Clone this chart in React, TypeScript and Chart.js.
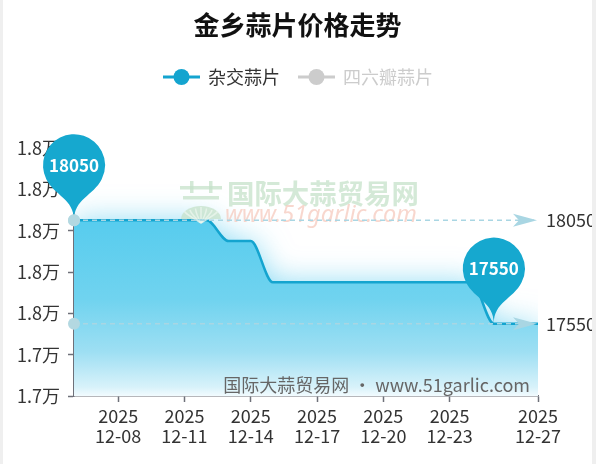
import React, { useEffect, useRef } from 'react';
import { Chart, registerables } from 'chart.js';

Chart.register(...registerables);

const TITLE = '金乡蒜片价格走势';
const SERIES_NAMES = ['杂交蒜片', '四六瓣蒜片'];
const DATES = [
  '2025-12-06', '2025-12-07', '2025-12-08', '2025-12-09', '2025-12-10', '2025-12-11',
  '2025-12-12', '2025-12-13', '2025-12-14', '2025-12-15', '2025-12-16', '2025-12-17',
  '2025-12-18', '2025-12-19', '2025-12-20', '2025-12-21', '2025-12-22', '2025-12-23',
  '2025-12-24', '2025-12-25', '2025-12-26', '2025-12-27',
];
const HYBRID_PRICES = [
  18050, 18050, 18050, 18050, 18050, 18050,
  18050, 17950, 17950, 17750, 17750, 17750,
  17750, 17750, 17750, 17750, 17750, 17750,
  17750, 17550, 17550, 17550,
];
const SIXPETAL_PRICES: number[] = [];
const SHOWN_TICK_DATES = ['2025-12-08', '2025-12-11', '2025-12-14', '2025-12-17', '2025-12-20', '2025-12-23', '2025-12-27'];
const Y_MIN = 17200;
const Y_MAX = 18400;
const Y_STEP = 200;
const WATERMARK_NAME = '国际大蒜贸易网';
const WATERMARK_URL = 'www.51garlic.com';

const FONT = '"Noto Sans CJK SC", "Noto Sans", sans-serif';
const LINE_COLOR = '#14a4cf';
const PIN_COLOR = '#16a8cf';
const MARK_COLOR = '#a9d6e3';
const MARK_DOT = '#b3d8e1';
const W = 589;
const H = 464;

function drawPin(ctx: CanvasRenderingContext2D, x: number, tipY: number, r: number, h: number) {
  const dy = (r * r) / (h - r);
  const cy = tipY - h + r + dy;
  const angle = Math.asin(dy / r);
  const dx = Math.cos(angle) * r;
  const tanX = Math.sin(angle);
  const tanY = Math.cos(angle);
  const cpLen = r * 0.6;
  const cpLen2 = r * 0.7;
  ctx.beginPath();
  ctx.moveTo(x - dx, cy + dy);
  ctx.arc(x, cy, r, Math.PI - angle, Math.PI * 2 + angle);
  ctx.bezierCurveTo(x + dx - tanX * cpLen, cy + dy + tanY * cpLen, x, tipY - cpLen2, x, tipY);
  ctx.bezierCurveTo(x, tipY - cpLen2, x - dx + tanX * cpLen, cy + dy + tanY * cpLen, x - dx, cy + dy);
  ctx.closePath();
  ctx.fill();
  return cy;
}

function fitFont(ctx: CanvasRenderingContext2D, text: string, style: string, family: string, width: number) {
  ctx.font = `${style} 20px ${family}`;
  const w = ctx.measureText(text).width;
  const size = (20 * width) / w;
  return `${style} ${size.toFixed(2)}px ${family}`;
}

const areaPlugin = {
  id: 'areaShadow',
  beforeDatasetsDraw(chart: any) {
    const ctx: CanvasRenderingContext2D = chart.ctx;
    const ca = chart.chartArea;
    const meta = chart.getDatasetMeta(0);
    const line = meta.dataset;
    const pts = meta.data;
    if (!line || !pts.length) return;
    if (line.updateControlPoints) line.updateControlPoints(ca, 'x');
    const yScale = chart.scales.y;
    const topY = yScale.getPixelForValue(Math.max(...HYBRID_PRICES));
    ctx.save();
    ctx.beginPath();
    ctx.rect(ca.left, ca.top, ca.right - ca.left, ca.bottom - ca.top);
    ctx.clip();
    ctx.beginPath();
    line.path(ctx);
    ctx.lineTo(pts[pts.length - 1].x, ca.bottom);
    ctx.lineTo(pts[0].x, ca.bottom);
    ctx.closePath();
    const g = ctx.createLinearGradient(0, topY, 0, ca.bottom);
    g.addColorStop(0, '#57ccee');
    g.addColorStop(0.45, '#70d3ef');
    g.addColorStop(0.75, '#9edff3');
    g.addColorStop(0.95, '#d8f2fa');
    g.addColorStop(1, '#f2fbfe');
    ctx.shadowColor = 'rgba(50,190,235,0.55)';
    ctx.shadowBlur = 30;
    ctx.fillStyle = g;
    ctx.fill();
    ctx.restore();
  },
};

const overlayPlugin = {
  id: 'overlay',
  afterDatasetsDraw(chart: any) {
    const ctx: CanvasRenderingContext2D = chart.ctx;
    const ca = chart.chartArea;
    const xs = chart.scales.x;
    const ys = chart.scales.y;
    ctx.save();

    // title
    ctx.fillStyle = '#111';
    ctx.font = `bold 26px ${FONT}`;
    ctx.textAlign = 'center';
    ctx.textBaseline = 'middle';
    ctx.fillText(TITLE, W / 2, 25);

    // legend
    const legend = [
      { name: SERIES_NAMES[0], color: LINE_COLOR, text: '#333', x: 160 },
      { name: SERIES_NAMES[1], color: '#cccccc', text: '#cccccc', x: 295 },
    ];
    legend.forEach((it) => {
      ctx.strokeStyle = it.color;
      ctx.lineWidth = 3;
      ctx.beginPath();
      ctx.moveTo(it.x, 77);
      ctx.lineTo(it.x + 37, 77);
      ctx.stroke();
      ctx.fillStyle = it.color;
      ctx.beginPath();
      ctx.arc(it.x + 18.5, 77, 8, 0, Math.PI * 2);
      ctx.fill();
      ctx.fillStyle = it.text;
      ctx.font = `18px ${FONT}`;
      ctx.textAlign = 'left';
      ctx.fillText(it.name, it.x + 45, 77);
    });

    // top watermark (logo + text)
    ctx.globalAlpha = 0.75;
    ctx.fillStyle = '#c6e2ca';
    ctx.fillRect(177, 186, 42, 3.5);
    ctx.fillRect(187, 181, 3.5, 12);
    ctx.fillRect(206, 181, 3.5, 12);
    ctx.fillRect(180, 196, 36, 3.5);
    ctx.beginPath();
    ctx.ellipse(198, 219, 20, 13, 0, Math.PI, 0);
    ctx.closePath();
    ctx.fill();
    ctx.strokeStyle = '#eef7ef';
    ctx.lineWidth = 1.5;
    for (let k = -3; k <= 3; k++) {
      ctx.beginPath();
      ctx.moveTo(198, 223);
      ctx.quadraticCurveTo(198 + k * 5, 214, 198 + k * 5.5, 207 + Math.abs(k) * 1.5);
      ctx.stroke();
    }
    ctx.fillStyle = '#c6e2ca';
    ctx.font = fitFont(ctx, WATERMARK_NAME, 'bold', FONT, 192);
    ctx.textAlign = 'left';
    ctx.textBaseline = 'middle';
    ctx.fillText(WATERMARK_NAME, 224, 194);
    ctx.fillStyle = '#f5cabd';
    ctx.font = fitFont(ctx, WATERMARK_URL, 'italic', '"Noto Sans", sans-serif', 192);
    ctx.fillText(WATERMARK_URL, 222, 215);
    ctx.globalAlpha = 1;

    // bottom watermark
    ctx.fillStyle = '#666';
    ctx.font = `18px ${FONT}`;
    ctx.textAlign = 'right';
    ctx.fillText(`${WATERMARK_NAME} • ${WATERMARK_URL}`, 527, 385);

    // mark lines
    const maxV = Math.max(...HYBRID_PRICES);
    const minV = Math.min(...HYBRID_PRICES);
    const maxI = HYBRID_PRICES.indexOf(maxV);
    const minI = HYBRID_PRICES.indexOf(minV);
    [maxV, minV].forEach((v) => {
      const py = ys.getPixelForValue(v);
      ctx.strokeStyle = MARK_COLOR;
      ctx.lineWidth = 1.5;
      ctx.setLineDash([5, 4]);
      ctx.beginPath();
      ctx.moveTo(ca.left, py);
      ctx.lineTo(ca.right - 4, py);
      ctx.stroke();
      ctx.setLineDash([]);
      const tx = ca.right - 1;
      ctx.fillStyle = MARK_COLOR;
      ctx.beginPath();
      ctx.moveTo(tx, py);
      ctx.lineTo(tx - 24, py - 6.5);
      ctx.lineTo(tx - 18, py);
      ctx.lineTo(tx - 24, py + 6.5);
      ctx.closePath();
      ctx.fill();
      ctx.fillStyle = MARK_DOT;
      ctx.beginPath();
      ctx.arc(ca.left, py, 6, 0, Math.PI * 2);
      ctx.fill();
      ctx.fillStyle = '#333';
      ctx.font = `18px ${FONT}`;
      ctx.textAlign = 'left';
      ctx.textBaseline = 'middle';
      ctx.fillText(String(v), ca.right + 8, py);
    });

    // mark points (pins)
    [
      { v: maxV, i: maxI },
      { v: minV, i: minI },
    ].forEach(({ v, i }) => {
      const px = xs.getPixelForValue(i);
      const py = ys.getPixelForValue(v);
      ctx.fillStyle = PIN_COLOR;
      const cy = drawPin(ctx, px, py, 31, 100);
      ctx.fillStyle = '#fff';
      ctx.font = `bold 17px ${FONT}`;
      ctx.textAlign = 'center';
      ctx.textBaseline = 'middle';
      ctx.fillText(String(v), px, cy);
    });
    // redraw max start dot over pin tip
    ctx.fillStyle = MARK_DOT;
    ctx.beginPath();
    ctx.arc(ca.left, ys.getPixelForValue(maxV), 6, 0, Math.PI * 2);
    ctx.fill();

    ctx.restore();
  },
};

export default function App() {
  const ref = useRef<HTMLCanvasElement | null>(null);
  useEffect(() => {
    document.body.style.margin = '0';
    document.body.style.background = '#efefef';
    const canvas = ref.current;
    if (!canvas) return;
    const shownIdx = SHOWN_TICK_DATES.map((d) => DATES.indexOf(d));
    const chart = new Chart(canvas, {
      type: 'line',
      data: {
        labels: DATES,
        datasets: [
          {
            label: SERIES_NAMES[0],
            data: HYBRID_PRICES,
            borderColor: LINE_COLOR,
            borderWidth: 2.5,
            pointRadius: 0,
            fill: false,
            cubicInterpolationMode: 'monotone',
          },
          {
            label: SERIES_NAMES[1],
            data: SIXPETAL_PRICES,
            hidden: true,
            borderColor: '#ccc',
            pointRadius: 0,
          },
        ],
      },
      options: {
        responsive: false,
        animation: false,
        devicePixelRatio: 1,
        layout: { padding: { left: 0, right: 54, top: 148, bottom: 0 } },
        plugins: {
          legend: { display: false },
          title: { display: false },
          tooltip: { enabled: false },
        },
        scales: {
          x: {
            type: 'category',
            offset: false,
            afterBuildTicks: (scale: any) => {
              scale.ticks = scale.ticks.filter((t: any) => shownIdx.includes(t.value));
            },
            afterFit: (scale: any) => {
              scale.height = 68;
            },
            ticks: {
              autoSkip: false,
              maxRotation: 0,
              minRotation: 0,
              padding: 4,
              color: '#333',
              font: { family: FONT, size: 18, lineHeight: 1.1 },
              callback: (value: any) => {
                const d = DATES[value as number];
                return [d.slice(0, 4), d.slice(5)];
              },
            },
            grid: {
              drawOnChartArea: false,
              drawTicks: true,
              tickLength: 6,
              tickColor: '#6e7079',
              tickWidth: 1.5,
            },
            border: { display: true, color: '#6e7079', width: 1.5 },
          },
          y: {
            min: Y_MIN,
            max: Y_MAX,
            afterFit: (scale: any) => {
              scale.width = 71;
            },
            ticks: {
              stepSize: Y_STEP,
              padding: 8,
              color: '#333',
              font: { family: FONT, size: 18 },
              callback: (value: any) => `${(Number(value) / 10000).toFixed(1)}万`,
            },
            grid: {
              drawOnChartArea: false,
              drawTicks: true,
              tickLength: 6,
              tickColor: '#6e7079',
              tickWidth: 1.5,
            },
            border: { display: true, color: '#6e7079', width: 1.5 },
          },
        },
      },
      plugins: [areaPlugin, overlayPlugin],
    } as any);
    return () => chart.destroy();
  }, []);

  return (
    <div style={{ position: 'fixed', inset: 0, background: '#efefef' }}>
      <div style={{ position: 'absolute', left: 3, top: 0, width: W, height: H, background: '#fff' }}>
        <canvas ref={ref} width={W} height={H} style={{ display: 'block', width: W, height: H }} />
      </div>
    </div>
  );
}
